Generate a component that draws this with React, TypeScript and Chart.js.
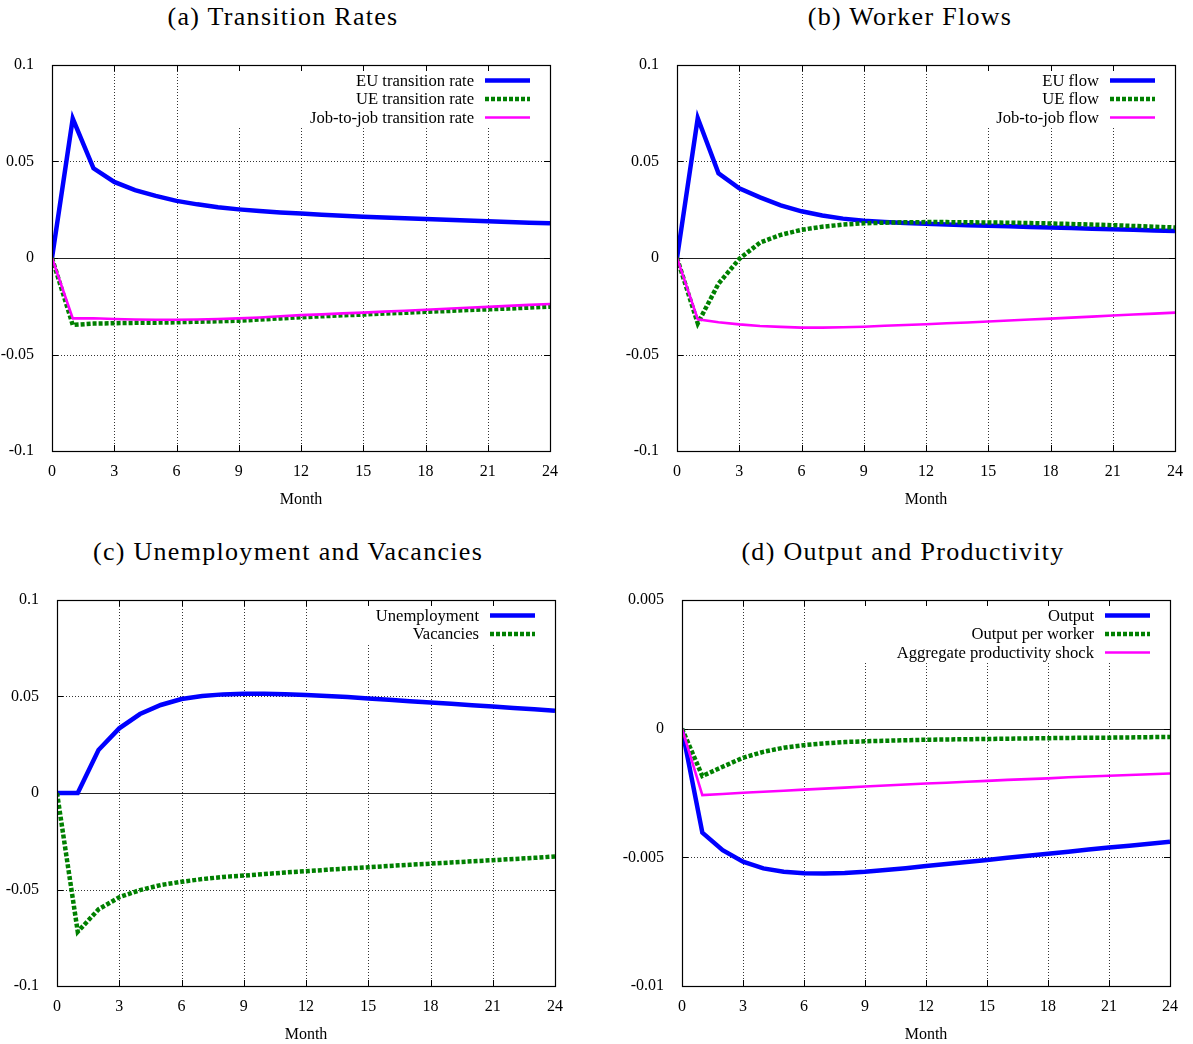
import React, { useEffect, useRef } from "react";
import { Chart, registerables } from "chart.js";

Chart.register(...registerables);

// ---------- data ----------
const months = [0, 1, 2, 3, 4, 5, 6, 7, 8, 9, 10, 11, 12, 13, 14, 15, 16, 17, 18, 19, 20, 21, 22, 23, 24];

// (a) Transition Rates
const euRate = [0, 0.0722, 0.0465, 0.0394, 0.0352, 0.0322, 0.0296, 0.0278, 0.0263, 0.0252, 0.0243, 0.0236, 0.023, 0.0224, 0.0219, 0.0214, 0.021, 0.0206, 0.0202, 0.0198, 0.0194, 0.019, 0.0187, 0.0183, 0.018];
const ueRate = [0, -0.0347, -0.034, -0.0338, -0.0336, -0.0335, -0.0333, -0.033, -0.0328, -0.0325, -0.0319, -0.0313, -0.0307, -0.0302, -0.0297, -0.0293, -0.0288, -0.0284, -0.0279, -0.0275, -0.027, -0.0266, -0.0262, -0.0257, -0.0252];
const j2jRate = [0, -0.0313, -0.0312, -0.0316, -0.0319, -0.032, -0.032, -0.0319, -0.0316, -0.0313, -0.0308, -0.0302, -0.0296, -0.0292, -0.0287, -0.0283, -0.0278, -0.0273, -0.0268, -0.0263, -0.0258, -0.0253, -0.0248, -0.0243, -0.0238];

// (b) Worker Flows
const euFlow = [0, 0.0725, 0.0439, 0.0361, 0.0314, 0.0273, 0.0242, 0.022, 0.0204, 0.0193, 0.0186, 0.0181, 0.0177, 0.0173, 0.017, 0.0167, 0.0164, 0.0161, 0.0158, 0.0155, 0.0152, 0.0149, 0.0146, 0.0143, 0.014];
const ueFlow = [0, -0.0339, -0.0133, -0.0005, 0.008, 0.012, 0.0146, 0.0162, 0.0173, 0.018, 0.0183, 0.0185, 0.0186, 0.0186, 0.0185, 0.0184, 0.0183, 0.0181, 0.0179, 0.0176, 0.0173, 0.017, 0.0166, 0.0162, 0.0158];
const j2jFlow = [0, -0.0318, -0.0333, -0.0344, -0.0352, -0.0357, -0.0361, -0.0361, -0.0359, -0.0356, -0.0351, -0.0347, -0.0343, -0.0338, -0.0334, -0.0329, -0.0324, -0.0319, -0.0314, -0.0309, -0.0304, -0.0298, -0.0293, -0.0288, -0.0283];

// (c) Unemployment and Vacancies
const unemployment = [0, 0, 0.0223, 0.0335, 0.0409, 0.0456, 0.0487, 0.0503, 0.0511, 0.0514, 0.0514, 0.0512, 0.0508, 0.0503, 0.0497, 0.049, 0.0483, 0.0476, 0.0469, 0.0462, 0.0455, 0.0448, 0.0441, 0.0434, 0.0426];
const vacancies = [0, -0.0719, -0.0603, -0.054, -0.0503, -0.0477, -0.046, -0.0446, -0.0435, -0.0428, -0.042, -0.0412, -0.0405, -0.0398, -0.0391, -0.0385, -0.0378, -0.0372, -0.0366, -0.036, -0.0354, -0.0348, -0.0342, -0.0336, -0.0329];

// (d) Output and Productivity
const output = [0, -0.00404, -0.00472, -0.00517, -0.00543, -0.00556, -0.00562, -0.00563, -0.00561, -0.00556, -0.00549, -0.00542, -0.00534, -0.00526, -0.00518, -0.0051, -0.00502, -0.00494, -0.00486, -0.00478, -0.0047, -0.00462, -0.00455, -0.00447, -0.00439];
const outputPerWorker = [0, -0.00184, -0.00148, -0.00113, -0.0009, -0.00074, -0.00064, -0.00057, -0.00052, -0.00049, -0.00047, -0.00045, -0.00043, -0.00042, -0.00041, -0.0004, -0.00039, -0.00038, -0.00037, -0.00036, -0.00035, -0.00035, -0.00034, -0.00033, -0.00032];
const aggShock = [0, -0.00258, -0.00254, -0.00249, -0.00245, -0.00241, -0.00237, -0.00233, -0.00229, -0.00225, -0.00221, -0.00217, -0.00213, -0.0021, -0.00206, -0.00203, -0.00199, -0.00196, -0.00193, -0.00189, -0.00186, -0.00183, -0.0018, -0.00177, -0.00174];

// ---------- styles ----------
type StyleKey = "blue" | "green" | "magenta";
const STYLES: Record<StyleKey, { color: string; width: number; dash: number[] }> = {
  blue: { color: "#0000ff", width: 4.5, dash: [] },
  green: { color: "#008000", width: 4.5, dash: [4, 2] },
  magenta: { color: "#ff00ff", width: 2.6, dash: [] },
};

const FONT = '"Liberation Serif", "Times New Roman", serif';

type Series = { label: string; data: number[]; style: StyleKey };
type Panel = {
  title: string;
  series: Series[];
  yMin: number;
  yMax: number;
  yStep: number;
  canvas: { left: number; top: number; width: number; height: number };
  plot: { L: number; R: number; T: number; B: number };
  titleCenter: { x: number; y: number };
};

const PANELS: Panel[] = [
  {
    title: "(a) Transition Rates",
    series: [
      { label: "EU transition rate", data: euRate, style: "blue" },
      { label: "UE transition rate", data: ueRate, style: "green" },
      { label: "Job-to-job transition rate", data: j2jRate, style: "magenta" },
    ],
    yMin: -0.1, yMax: 0.1, yStep: 0.05,
    canvas: { left: 0, top: 40, width: 596, height: 480 },
    plot: { L: 52, R: 550, T: 65, B: 451 },
    titleCenter: { x: 283, y: 17 },
  },
  {
    title: "(b) Worker Flows",
    series: [
      { label: "EU flow", data: euFlow, style: "blue" },
      { label: "UE flow", data: ueFlow, style: "green" },
      { label: "Job-to-job flow", data: j2jFlow, style: "magenta" },
    ],
    yMin: -0.1, yMax: 0.1, yStep: 0.05,
    canvas: { left: 600, top: 40, width: 593, height: 480 },
    plot: { L: 677, R: 1175, T: 65, B: 451 },
    titleCenter: { x: 910, y: 17 },
  },
  {
    title: "(c) Unemployment and Vacancies",
    series: [
      { label: "Unemployment", data: unemployment, style: "blue" },
      { label: "Vacancies", data: vacancies, style: "green" },
    ],
    yMin: -0.1, yMax: 0.1, yStep: 0.05,
    canvas: { left: 0, top: 575, width: 596, height: 469 },
    plot: { L: 57, R: 555, T: 600, B: 986 },
    titleCenter: { x: 288, y: 552 },
  },
  {
    title: "(d) Output and Productivity",
    series: [
      { label: "Output", data: output, style: "blue" },
      { label: "Output per worker", data: outputPerWorker, style: "green" },
      { label: "Aggregate productivity shock", data: aggShock, style: "magenta" },
    ],
    yMin: -0.01, yMax: 0.005, yStep: 0.005,
    canvas: { left: 600, top: 575, width: 593, height: 469 },
    plot: { L: 682, R: 1170, T: 600, B: 986 },
    titleCenter: { x: 903, y: 552 },
  },
];

// ---------- gnuplot-like frame plugin ----------
const gnuFrame = {
  id: "gnuFrame",
  beforeDatasetsDraw(chart: any, _args: any, opts: any) {
    const { ctx, chartArea: a, scales } = chart;
    const xs = scales.x;
    const ys = scales.y;
    const line = (x1: number, y1: number, x2: number, y2: number) => {
      ctx.beginPath();
      ctx.moveTo(x1, y1);
      ctx.lineTo(x2, y2);
      ctx.stroke();
    };
    const eps = 1e-9;
    ctx.save();
    // dotted grid
    ctx.strokeStyle = "rgba(0,0,0,0.8)";
    ctx.lineWidth = 1;
    ctx.setLineDash([1, 2]);
    xs.ticks.forEach((t: any) => {
      if (t.value <= xs.min + eps || t.value >= xs.max - eps) return;
      const px = Math.round(xs.getPixelForValue(t.value)) + 0.5;
      line(px, a.top, px, a.bottom);
    });
    ys.ticks.forEach((t: any) => {
      if (t.value <= ys.min + eps || t.value >= ys.max - eps || Math.abs(t.value) < eps) return;
      const py = Math.round(ys.getPixelForValue(t.value)) + 0.5;
      line(a.left, py, a.right, py);
    });
    ctx.setLineDash([]);
    // opaque key box
    const items: Series[] = opts.items || [];
    const textRight = a.right - 77;
    const maxChars = Math.max(...items.map((s) => s.label.length));
    const boxLeft = textRight - maxChars * 9.2 - 4;
    const boxBottom = a.top + 16 + (items.length - 1) * 18.5 + 9;
    ctx.fillStyle = "#ffffff";
    ctx.fillRect(boxLeft, a.top + 1, a.right - 1 - boxLeft, boxBottom - a.top - 1);
    // zero axis
    const zy = Math.round(ys.getPixelForValue(0)) + 0.5;
    ctx.strokeStyle = "#222";
    ctx.lineWidth = 1;
    line(a.left, zy, a.right, zy);
    // inward ticks
    ctx.strokeStyle = "#000";
    const tl = 6;
    xs.ticks.forEach((t: any) => {
      const px = Math.round(xs.getPixelForValue(t.value)) + 0.5;
      line(px, a.bottom, px, a.bottom - tl);
      line(px, a.top, px, a.top + tl);
    });
    ys.ticks.forEach((t: any) => {
      const py = Math.round(ys.getPixelForValue(t.value)) + 0.5;
      line(a.left, py, a.left + tl, py);
      line(a.right, py, a.right - tl, py);
    });
    ctx.restore();
  },
  afterDatasetsDraw(chart: any, _args: any, opts: any) {
    const { ctx, chartArea: a } = chart;
    const items: Series[] = opts.items || [];
    ctx.save();
    // border
    ctx.strokeStyle = "#000";
    ctx.lineWidth = 1.2;
    ctx.setLineDash([]);
    ctx.strokeRect(Math.round(a.left) + 0.5, Math.round(a.top) + 0.5, Math.round(a.right - a.left), Math.round(a.bottom - a.top));
    // legend
    ctx.font = `16.6px ${FONT}`;
    ctx.fillStyle = "#000";
    ctx.textAlign = "right";
    ctx.textBaseline = "middle";
    const textRight = a.right - 76;
    const sx1 = a.right - 65;
    const sx2 = a.right - 20;
    items.forEach((s, i) => {
      const yy = a.top + 15.5 + i * 18.5;
      ctx.fillText(s.label, textRight, yy + 1);
      const st = STYLES[s.style];
      ctx.strokeStyle = st.color;
      ctx.lineWidth = st.width;
      ctx.setLineDash(st.dash);
      ctx.lineCap = "butt";
      ctx.beginPath();
      ctx.moveTo(sx1, yy);
      ctx.lineTo(sx2, yy);
      ctx.stroke();
    });
    ctx.restore();
  },
};

const fmt = (v: any) => String(Math.round(Number(v) * 1e6) / 1e6);

function PanelChart({ panel }: { panel: Panel }) {
  const ref = useRef<HTMLCanvasElement | null>(null);
  useEffect(() => {
    if (!ref.current) return;
    const { canvas: c, plot: p } = panel;
    const yAxisWidth = p.L - c.left;
    const xAxisHeight = c.top + c.height - p.B;
    const titleBottomPad = xAxisHeight - 49 - 9.6;
    const chart = new Chart(ref.current, {
      type: "line",
      data: {
        datasets: panel.series.map((s, i) => ({
          label: s.label,
          data: months.map((m, k) => ({ x: m, y: s.data[k] })),
          borderColor: STYLES[s.style].color,
          borderWidth: STYLES[s.style].width,
          borderDash: STYLES[s.style].dash,
          borderJoinStyle: "miter" as const,
          borderCapStyle: "butt" as const,
          pointRadius: 0,
          tension: 0,
          fill: false,
          order: -i,
        })),
      },
      options: {
        responsive: false,
        animation: false,
        layout: {
          padding: { left: 0, top: p.T - c.top, right: c.left + c.width - p.R, bottom: 0 },
        },
        plugins: {
          legend: { display: false },
          tooltip: { enabled: false },
          title: { display: false },
          gnuFrame: { items: panel.series },
        } as any,
        scales: {
          x: {
            type: "linear",
            min: 0,
            max: 24,
            grid: { display: false },
            border: { display: false },
            ticks: {
              stepSize: 3,
              autoSkip: false,
              maxRotation: 0,
              padding: 3,
              color: "#000",
              font: { family: FONT, size: 16 },
            },
            title: {
              display: true,
              text: "Month",
              color: "#000",
              font: { family: FONT, size: 16 },
              padding: { top: 0, bottom: titleBottomPad },
            },
            afterFit: (s: any) => {
              s.height = xAxisHeight;
            },
          },
          y: {
            type: "linear",
            min: panel.yMin,
            max: panel.yMax,
            grid: { display: false },
            border: { display: false },
            ticks: {
              stepSize: panel.yStep,
              padding: 10,
              color: "#000",
              font: { family: FONT, size: 16 },
              callback: (v: any) => fmt(v),
            },
            afterFit: (s: any) => {
              s.width = yAxisWidth;
            },
          },
        },
      } as any,
      plugins: [gnuFrame],
    });
    return () => chart.destroy();
  }, [panel]);
  const { canvas: c } = panel;
  return (
    <canvas
      ref={ref}
      width={c.width}
      height={c.height}
      style={{ position: "absolute", left: c.left, top: c.top, width: c.width, height: c.height }}
    />
  );
}

export default function App() {
  return (
    <div
      style={{
        position: "fixed",
        left: 0,
        top: 0,
        width: 1193,
        height: 1044,
        background: "#fff",
        overflow: "hidden",
      }}
    >
      {PANELS.map((p) => (
        <React.Fragment key={p.title}>
          <div
            style={{
              position: "absolute",
              left: p.titleCenter.x - 300,
              top: p.titleCenter.y - 14,
              width: 600,
              textAlign: "center",
              fontFamily: FONT,
              fontSize: 26,
              lineHeight: "28px",
              letterSpacing: "1.3px",
              color: "#000",
              whiteSpace: "nowrap",
            }}
          >
            {p.title}
          </div>
          <PanelChart panel={p} />
        </React.Fragment>
      ))}
    </div>
  );
}
